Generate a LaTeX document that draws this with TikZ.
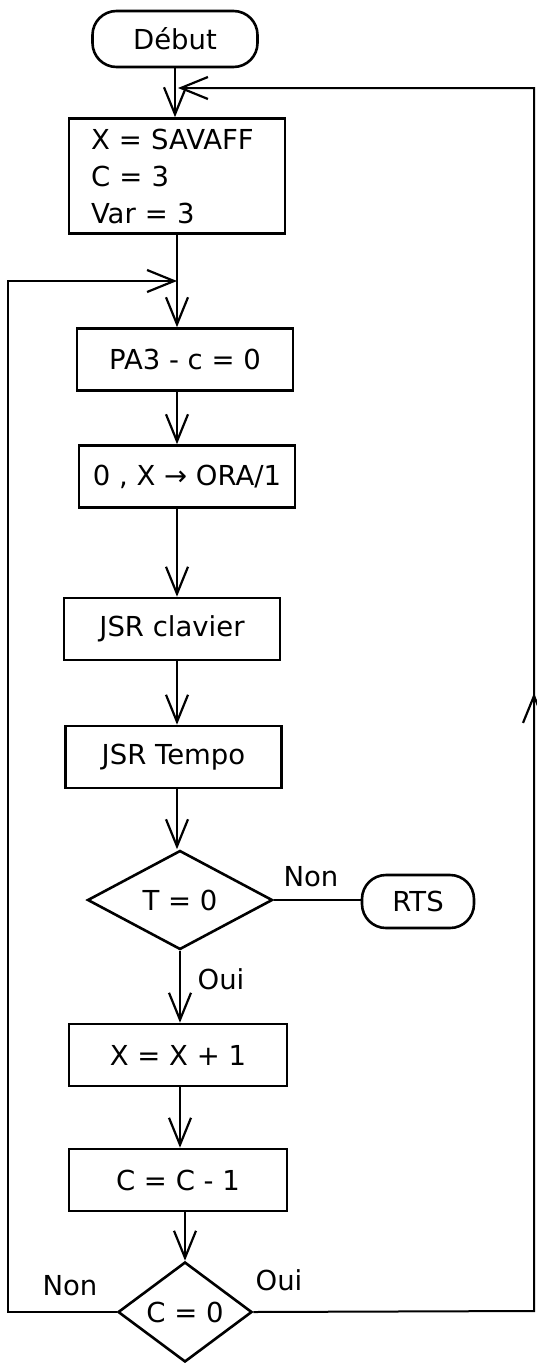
\documentclass[tikz,border=0pt]{standalone}
\usepackage{fontspec}
\setmainfont{DejaVu Sans}
\usetikzlibrary{arrows.meta,shapes.geometric}
\begin{document}
\begin{tikzpicture}[x=1pt,y=-1pt,
  every node/.style={font=\fontsize{27.5}{37}\selectfont},
  proc/.style={draw,line width=2.6pt,minimum width=216pt,minimum height=62pt,inner sep=0pt},
  term/.style={draw,line width=2.6pt,rounded corners=24pt,minimum height=56pt,inner sep=0pt},
  dec/.style={draw,line width=2.6pt,diamond,inner sep=0pt},
  conn/.style={line width=2pt},
  arr/.style={conn,-{Straight Barb[length=27pt,width=22pt,line width=2.2pt]}},
  lbl/.style={inner sep=0pt}
]
\useasboundingbox (0,0) rectangle (537,1363);

\node[term,minimum width=165pt] (debut) at (175,39) {Début};
\node[proc,minimum height=115pt,text width=172pt,align=left] (b1) at (177,176) {X = SAVAFF\\C = 3\\Var = 3};
\node[proc] (b2) at (185,359.5) {PA3 - c = 0};
\node[proc] (b3) at (187,476.5) {0 , X → ORA/1};
\node[proc] (b4) at (172,629) {JSR clavier};
\node[proc] (b5) at (173.5,757) {JSR Tempo};
\node[dec,minimum width=185pt,minimum height=99pt] (d1) at (180,900) {T = 0};
\node[term,minimum width=112pt,minimum height=53pt] (rts) at (418,901.5) {RTS};
\node[proc,minimum width=218pt] (b6) at (178,1055) {X = X + 1};
\node[proc,minimum width=218pt] (b7) at (178,1180) {C = C - 1};
\node[dec,minimum width=134pt,minimum height=100pt] (d2) at (185,1312) {C = 0};

\node[lbl] (non1) at (311,877) {Non};
\node[lbl] (oui1) at (221,979) {Oui};
\node[lbl] (non2) at (70,1286) {Non};
\node[lbl] (oui2) at (279,1280) {Oui};

\coordinate (topj) at (178,88);
\coordinate (rt) at (534,88);
\coordinate (rb) at (534,1311);
\coordinate (rmid) at (534,693);
\coordinate (rlow) at (534,760);
\coordinate (lt) at (8,281);
\coordinate (lb) at (8,1312);
\coordinate (lj) at (177,281);

\draw[arr] (debut.south) -- (debut.south |- b1.north);
\draw[arr] (b1.south) -- (b1.south |- b2.north);
\draw[arr] (b2.south -| b1.south) -- (b1.south |- b3.north);
\draw[arr] (b3.south -| b1.south) -- (b1.south |- b4.north);
\draw[arr] (b4.south -| b1.south) -- (b1.south |- b5.north);
\draw[arr] (b5.south -| b1.south) -- (b1.south |- d1.north);
\draw[conn] (d1.east) -- (d1.east -| rts.west);
\draw[arr] (d1.south) -- (d1.south |- b6.north);
\draw[arr] (b6.south -| d1.south) -- (d1.south |- b7.north);
\draw[arr] (b7.south -| d2.north) -- (d2.north);

\draw[arr] (d2.east) -- (rb) -- (rt) -- (topj);
\draw[arr] (rlow) -- (rmid);
\draw[arr] (d2.west) -- (lb) -- (lt) -- (lj);
\end{tikzpicture}
\end{document}
